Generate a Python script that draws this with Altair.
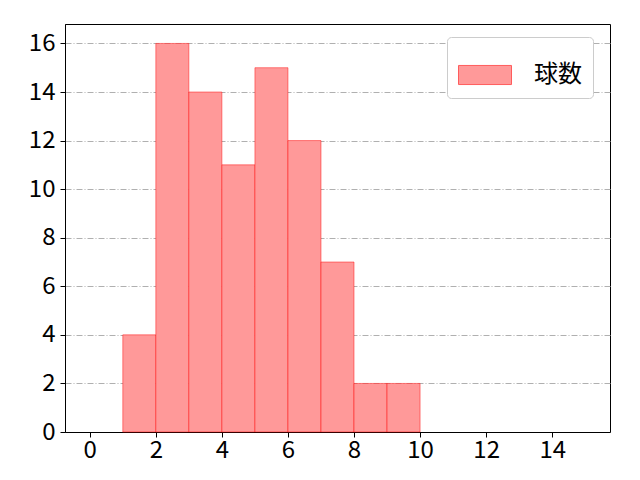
import pandas as pd
import altair as alt

bin_start = [1, 2, 3, 4, 5, 6, 7, 8, 9]
counts = [4, 16, 14, 11, 15, 12, 7, 2, 2]
x_ticks = [0, 2, 4, 6, 8, 10, 12, 14]
y_ticks = [0, 2, 4, 6, 8, 10, 12, 14, 16]

df = pd.DataFrame({
    'start': bin_start,
    'end': [b + 1 for b in bin_start],
    'count': counts,
    'label': ['球数'] * len(counts),
})

font = 'Noto Sans CJK JP'
wide_rect = 'M-1,-0.36L1,-0.36L1,0.36L-1,0.36Z'

bars = alt.Chart(df).mark_rect(
    fill='#ff9999', stroke='#ff0000', strokeOpacity=0.45, strokeWidth=1
).encode(
    x=alt.X('start:Q', scale=alt.Scale(domain=[-0.75, 15.75], nice=False, zero=False),
            axis=alt.Axis(values=x_ticks, title=None, grid=False, tickSize=5,
                          labelFontSize=24, labelFont=font, labelColor='black',
                          tickColor='black', domainColor='black', labelPadding=1)),
    x2='end:Q',
    y=alt.Y('count:Q', scale=alt.Scale(domain=[0, 16.8], nice=False),
            axis=alt.Axis(values=y_ticks, title=None, grid=True, gridColor='#b0b0b0',
                          gridDash=[6, 2, 1, 2], tickSize=5, labelFontSize=24,
                          labelFont=font, labelColor='black', tickColor='black',
                          domainColor='black', labelPadding=5)),
    y2=alt.datum(0),
    color=alt.Color('label:N', scale=alt.Scale(range=['#ff9999']),
                    legend=alt.Legend(title=None, orient='none', legendX=382, legendY=13,
                                      symbolType=wide_rect, symbolSize=2809,
                                      symbolStrokeColor='#ff5c5c', symbolStrokeWidth=1,
                                      labelFontSize=24, labelFont=font, labelColor='black',
                                      padding=11, strokeColor='#cccccc', cornerRadius=4,
                                      fillColor='white', labelOffset=22,
                                      symbolOffset=0)),
)

chart = bars.properties(
    width=545, height=408,
    padding={'left': 57, 'top': 16, 'right': 22, 'bottom': 40},
    autosize=alt.AutoSizeParams(type='none'),
).configure_view(stroke='black', strokeWidth=1)

chart.save("out.html", embed_options={"renderer": "svg", "actions": False})
